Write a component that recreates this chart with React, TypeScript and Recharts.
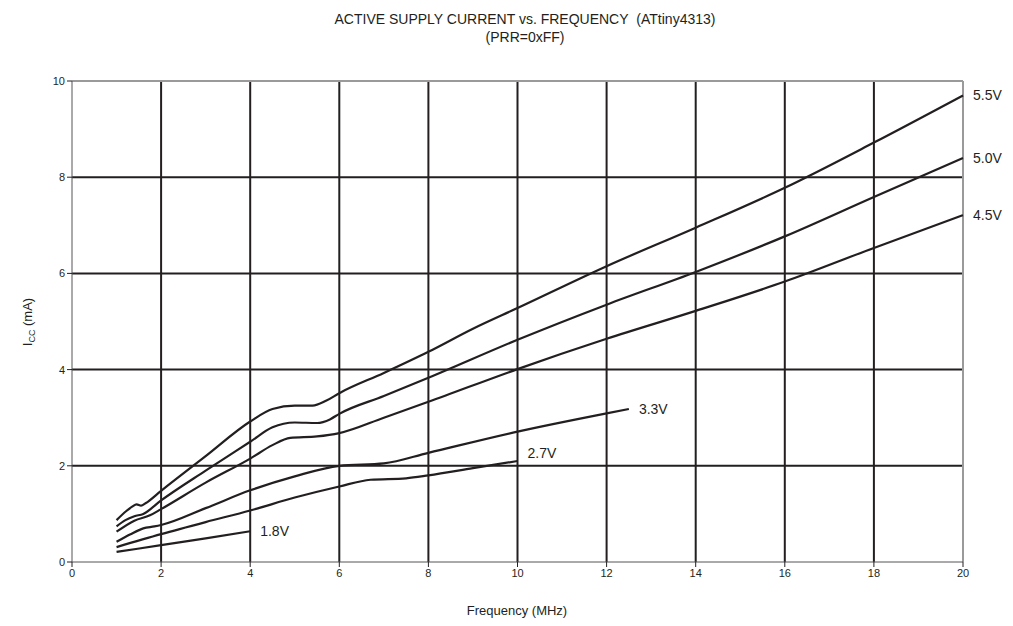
import { LineChart, Line, XAxis, YAxis, ReferenceLine } from 'recharts'

// Frequency (MHz) / Icc (mA)
const v55 = [
  { f: 1.0, i: 0.87 }, { f: 1.22, i: 1.06 }, { f: 1.35, i: 1.15 }, { f: 1.45, i: 1.2 },
  { f: 1.55, i: 1.17 }, { f: 1.65, i: 1.22 }, { f: 2.0, i: 1.48 }, { f: 3.0, i: 2.2 },
  { f: 4.0, i: 2.92 }, { f: 4.5, i: 3.18 }, { f: 5.0, i: 3.25 }, { f: 5.4, i: 3.25 },
  { f: 5.7, i: 3.35 }, { f: 6.0, i: 3.51 }, { f: 7.0, i: 3.93 }, { f: 8.0, i: 4.37 },
  { f: 9.0, i: 4.85 }, { f: 10.0, i: 5.28 }, { f: 12.0, i: 6.15 }, { f: 14.0, i: 6.95 },
  { f: 16.0, i: 7.78 }, { f: 18.0, i: 8.72 }, { f: 20.0, i: 9.7 },
]
const v50 = [
  { f: 1.0, i: 0.74 }, { f: 1.2, i: 0.87 }, { f: 1.4, i: 0.95 }, { f: 1.6, i: 1.0 },
  { f: 2.0, i: 1.28 }, { f: 3.0, i: 1.9 }, { f: 4.0, i: 2.5 }, { f: 4.5, i: 2.8 },
  { f: 5.0, i: 2.9 }, { f: 5.5, i: 2.89 }, { f: 5.8, i: 2.97 }, { f: 6.0, i: 3.08 },
  { f: 7.0, i: 3.45 }, { f: 8.0, i: 3.83 }, { f: 10.0, i: 4.62 }, { f: 12.0, i: 5.35 },
  { f: 14.0, i: 6.03 }, { f: 16.0, i: 6.77 }, { f: 18.0, i: 7.59 }, { f: 20.0, i: 8.4 },
]
const v45 = [
  { f: 1.0, i: 0.63 }, { f: 1.4, i: 0.86 }, { f: 1.75, i: 0.97 }, { f: 2.0, i: 1.1 },
  { f: 3.0, i: 1.65 }, { f: 4.0, i: 2.15 }, { f: 4.5, i: 2.43 }, { f: 4.9, i: 2.58 },
  { f: 5.5, i: 2.61 }, { f: 6.0, i: 2.68 }, { f: 7.0, i: 3.0 }, { f: 8.0, i: 3.33 },
  { f: 10.0, i: 4.01 }, { f: 12.0, i: 4.64 }, { f: 14.0, i: 5.22 }, { f: 16.0, i: 5.83 },
  { f: 18.0, i: 6.53 }, { f: 20.0, i: 7.21 },
]
const v33 = [
  { f: 1.0, i: 0.42 }, { f: 1.3, i: 0.57 }, { f: 1.6, i: 0.7 }, { f: 1.85, i: 0.74 },
  { f: 2.0, i: 0.77 }, { f: 3.0, i: 1.12 }, { f: 4.0, i: 1.49 }, { f: 5.0, i: 1.78 },
  { f: 6.0, i: 2.0 }, { f: 7.0, i: 2.05 }, { f: 8.0, i: 2.27 }, { f: 10.0, i: 2.71 },
  { f: 12.0, i: 3.09 }, { f: 12.5, i: 3.18 },
]
const v27 = [
  { f: 1.0, i: 0.31 }, { f: 2.0, i: 0.58 }, { f: 3.0, i: 0.83 }, { f: 4.0, i: 1.07 },
  { f: 5.0, i: 1.34 }, { f: 6.0, i: 1.57 }, { f: 6.7, i: 1.71 }, { f: 7.5, i: 1.74 },
  { f: 8.0, i: 1.8 }, { f: 9.0, i: 1.95 }, { f: 10.0, i: 2.1 },
]
const v18 = [
  { f: 1.0, i: 0.21 }, { f: 2.0, i: 0.35 }, { f: 3.0, i: 0.49 }, { f: 4.0, i: 0.64 },
]

const series = [
  { name: '5.5V', data: v55, dy: 0 },
  { name: '5.0V', data: v50, dy: 0 },
  { name: '4.5V', data: v45, dy: 0 },
  { name: '3.3V', data: v33, dy: 0 },
  { name: '2.7V', data: v27, dy: -8 },
  { name: '1.8V', data: v18, dy: 0 },
]

const xTicks = [0, 2, 4, 6, 8, 10, 12, 14, 16, 18, 20]
const yTicks = [0, 2, 4, 6, 8, 10]

const font = 'Liberation Sans, Arial, sans-serif'
const ink = '#231f20'

function endLabel(text: string, count: number, dy: number) {
  return (p: any) => {
    if (p.index !== count - 1) return null
    return (
      <text x={p.x + 10} y={p.y + 5 + dy} fontSize={14} fill={ink} fontFamily={font}>
        {text}
      </text>
    )
  }
}

export default function App() {
  return (
    <div style={{ position: 'absolute', left: 0, top: 0, width: 1013, height: 626, background: '#fff', fontFamily: font }}>
      <LineChart width={1013} height={626} margin={{ top: 81, right: 50, bottom: 34, left: 40 }}>
        <XAxis
          type="number"
          dataKey="f"
          domain={[0, 20]}
          ticks={xTicks}
          allowDuplicatedCategory={false}
          stroke="#555"
          tickLine={{ stroke: ink }}
          tickSize={5}
          tick={{ fill: ink, fontSize: 11, fontFamily: font }}
          height={30}
        />
        <YAxis
          type="number"
          dataKey="i"
          domain={[0, 10]}
          ticks={yTicks}
          stroke="#555"
          tickLine={{ stroke: ink }}
          tickSize={5}
          tick={{ fill: ink, fontSize: 11, fontFamily: font }}
          width={32}
        />
        {yTicks.slice(1, -1).map(v => (
          <ReferenceLine key={'h' + v} y={v} stroke={ink} strokeWidth={2} />
        ))}
        {xTicks.slice(1, -1).map(v => (
          <ReferenceLine key={'v' + v} x={v} stroke={ink} strokeWidth={2} />
        ))}
        <ReferenceLine y={10} stroke="#9a9a9a" strokeWidth={2} />
        <ReferenceLine x={20} stroke="#9a9a9a" strokeWidth={2} />
        {series.map(s => (
          <Line
            key={s.name}
            data={s.data}
            dataKey="i"
            type="monotone"
            stroke={ink}
            strokeWidth={2.2}
            dot={false}
            isAnimationActive={false}
            label={endLabel(s.name, s.data.length, s.dy)}
          />
        ))}
        <text x={525} y={24} textAnchor="middle" fontSize={14} fill={ink} fontFamily={font} style={{ whiteSpace: 'pre' }}>
          {'ACTIVE SUPPLY CURRENT vs. FREQUENCY\u00a0 (ATtiny4313)'}
        </text>
        <text x={525} y={42} textAnchor="middle" fontSize={14} fill={ink} fontFamily={font}>
          (PRR=0xFF)
        </text>
        <text x={517} y={615} textAnchor="middle" fontSize={13} fill={ink} fontFamily={font}>
          Frequency (MHz)
        </text>
        <text
          x={32}
          y={322}
          textAnchor="middle"
          fontSize={13}
          fill={ink}
          fontFamily={font}
          transform="rotate(-90 32 322)"
        >
          I<tspan fontSize={9} dy={3}>CC</tspan>
          <tspan dy={-3}> (mA)</tspan>
        </text>
      </LineChart>
    </div>
  )
}
